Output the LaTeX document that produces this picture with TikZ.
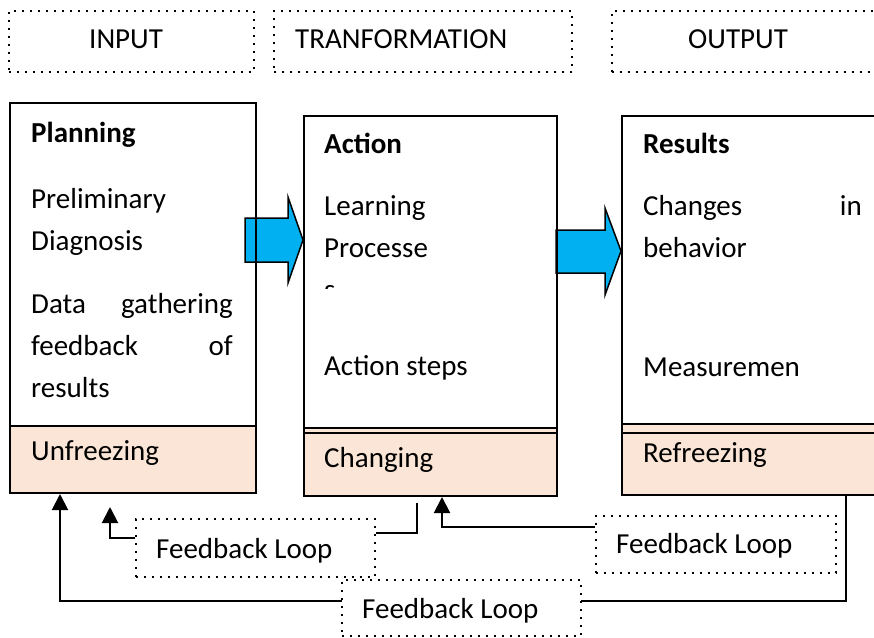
\documentclass[tikz,border=0pt]{standalone}
\usepackage{fontspec}
\setmainfont{Carlito}
\usetikzlibrary{arrows.meta,calc}
\definecolor{peach}{RGB}{251,229,214}
\definecolor{arrowblue}{RGB}{0,176,240}
\begin{document}
\begin{tikzpicture}[x=1pt,y=-1pt,
  font=\fontsize{29}{35}\selectfont,
  mainbox/.style={draw,line width=2pt,inner sep=0pt,anchor=north west},
  subbox/.style={mainbox,fill=peach},
  dotbox/.style={draw,line width=1.8pt,dash pattern=on 1.8pt off 6.2pt,fill=white,inner sep=0pt,anchor=north west},
  txt/.style={inner sep=0pt,anchor=base west},
  txtr/.style={inner sep=0pt,anchor=base east},
  conn/.style={draw,line width=2pt},
  connarrow/.style={conn,-{Triangle[width=16pt,length=16pt]}},
  blockarrow/.style={draw,line width=1.5pt,fill=arrowblue,line join=miter}
]
\useasboundingbox (0,0) rectangle (874,637);
\clip (0,0) rectangle (874,637);

% top dotted headers
\node[dotbox,minimum width=245pt,minimum height=61pt] (inp) at (8,10) {};
\node[txt] (inpt) at (89,48) {INPUT};
\node[dotbox,minimum width=298pt,minimum height=61pt] (trf) at (273,10) {};
\node[txt] (trft) at (295,48) {TRANFORMATION};
\node[dotbox,minimum width=300pt,minimum height=61pt] (outp) at (611,10) {};
\node[txt] (outpt) at (688,48) {OUTPUT};

% block arrows (drawn before the boxes)
\path[blockarrow] (245,218) -- (288,218) -- (288,197) -- (303,240) -- (288,283) -- (288,262) -- (245,262) -- cycle;
\path[blockarrow] (556,230) -- (605,230) -- (605,208) -- (621,251) -- (605,295) -- (605,273) -- (556,273) -- cycle;

% box 1: Planning
\node[mainbox,minimum width=246pt,minimum height=323pt] (plan) at (9,102) {};
\node[subbox,minimum width=246pt,minimum height=67pt] (unf) at (9,425) {};
\node[txt,font=\fontsize{29}{35}\selectfont\bfseries] (plant) at (31,142) {Planning};
\node[txt] (pl1) at (31,208) {Preliminary};
\node[txt] (pl2) at (31,250) {Diagnosis};
\node[txt] (pl3a) at (31,313) {Data};
\node[txtr] (pl3b) at (233,313) {gathering};
\node[txt] (pl4a) at (31,355) {feedback};
\node[txtr] (pl4b) at (233,355) {of};
\node[txt] (pl5) at (31,397) {results};
\node[txt] (unft) at (31,460) {Unfreezing};

% box 2: Action
\node[mainbox,minimum width=253pt,minimum height=312pt] (act) at (303,115) {};
\node[subbox,minimum width=253pt,minimum height=68pt] (chg) at (303,427) {};
\draw[line width=2pt] ($(chg.north west)+(0,6)$) -- ($(chg.north east)+(0,6)$);
\node[txt,font=\fontsize{29}{35}\selectfont\bfseries] (actt) at (324,153) {Action};
\node[txt] (ac1) at (324,215) {Learning};
\node[txt] (ac2) at (324,257) {Processe};
\begin{scope}
\clip (318,270) rectangle (345,288);
\node[txt] (ac3) at (324,299) {s};
\end{scope}
\node[txt] (ac4) at (324,375) {Action steps};
\node[txt] (chgt) at (324,467) {Changing};

% box 3: Results
\node[mainbox,minimum width=300pt,minimum height=308pt] (res) at (621,115) {};
\node[subbox,minimum width=300pt,minimum height=71pt] (refr) at (621,423) {};
\draw[line width=2pt] ($(refr.north west)+(0,10)$) -- ($(refr.north east)+(0,10)$);
\node[txt,font=\fontsize{29}{35}\selectfont\bfseries] (rest) at (643,153) {Results};
\node[txt] (rs1a) at (643,215) {Changes};
\node[txtr] (rs1b) at (862,215) {in};
\node[txt] (rs2) at (643,257) {behavior};
\node[txt] (rs3) at (643,376) {Measuremen};
\node[txt] (refrt) at (643,462) {Refreezing};

% feedback connectors
\coordinate (loopR) at (846,601);
\coordinate (loopL) at (60,601);
\draw[connarrow] (refr.south -| loopR) -- (loopR) -- (loopL) -- (unf.south -| loopL);

\coordinate (a1) at (417,503);
\coordinate (a2) at (417,533);
\coordinate (b1) at (110,538);
\coordinate (b2) at (110,507);
\coordinate (c1) at (442,527);

% feedback boxes
\node[dotbox,minimum width=239pt,minimum height=58pt] (fbl) at (135,518) {};
\node[txt] (fblt) at (156,558) {Feedback Loop};
\node[dotbox,minimum width=240pt,minimum height=57pt] (fbr) at (595,515) {};
\node[txt] (fbrt) at (616,553) {Feedback Loop};
\node[dotbox,minimum width=239pt,minimum height=56pt] (fbb) at (341,579) {};
\node[txt] (fbbt) at (362,618) {Feedback Loop};

\draw[conn] (a1) -- (a2) -- (fbl.east |- a2);
\draw[connarrow] (fbl.west |- b1) -- (b1) -- (b2);
\draw[connarrow] (fbr.west |- c1) -- (c1) -- (chg.south -| c1);
\end{tikzpicture}
\end{document}
